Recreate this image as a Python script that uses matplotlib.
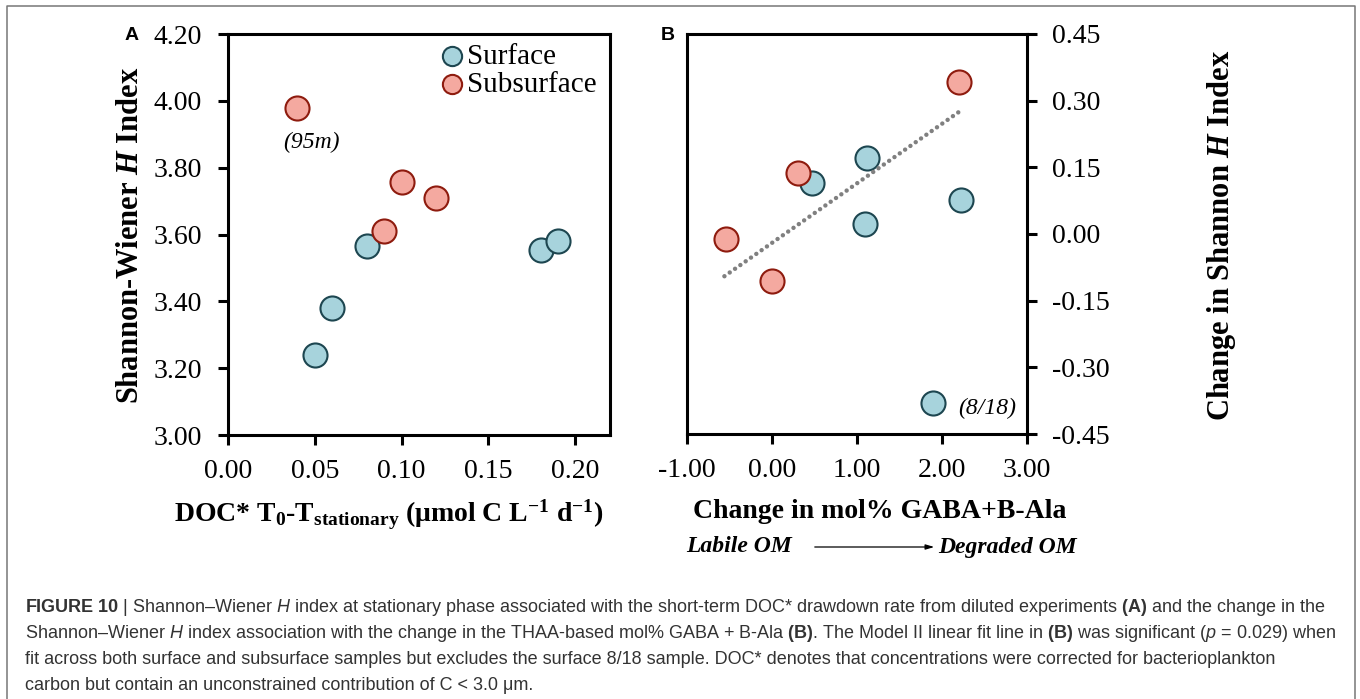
import matplotlib
matplotlib.use("Agg")
import matplotlib.pyplot as plt
import numpy as np
from matplotlib.ticker import FormatStrFormatter

# panel A: DOC* drawdown vs Shannon H
a_surface_x = [0.05, 0.06, 0.08, 0.18, 0.19]
a_surface_y = [3.24, 3.38, 3.565, 3.555, 3.58]
a_subsurface_x = [0.04, 0.09, 0.10, 0.12]
a_subsurface_y = [3.98, 3.61, 3.757, 3.71]

# panel B: change in mol% GABA+B-Ala vs change in Shannon H
b_surface_x = [0.47, 1.12, 1.09, 2.22, 1.89]
b_surface_y = [0.115, 0.17, 0.022, 0.076, -0.38]
b_subsurface_x = [-0.54, 0.0, 0.31, 2.20]
b_subsurface_y = [-0.012, -0.106, 0.137, 0.342]

# Model II fit (8/18 excluded)
fit_x = [-0.56, 2.20]
fit_slope = 0.134
fit_intercept = -0.020

a_xticks = [0.00, 0.05, 0.10, 0.15, 0.20]
a_yticks = [3.00, 3.20, 3.40, 3.60, 3.80, 4.00, 4.20]
b_xticks = [-1.00, 0.00, 1.00, 2.00, 3.00]
b_yticks = [-0.45, -0.30, -0.15, 0.00, 0.15, 0.30, 0.45]

caption_lines = [
    r"$\mathtt{FIGURE\ 10}$ | Shannon–Wiener $\mathcal{H}$ index at stationary phase associated with the short-term DOC* "
    r"drawdown rate from diluted experiments $\mathtt{(A)}$ and the change in the",
    r"Shannon–Wiener $\mathcal{H}$ index association with the change in the THAA-based mol% GABA + B-Ala $\mathtt{(B)}$. "
    r"The Model II linear fit line in $\mathtt{(B)}$ was significant ($\mathcal{p}$ = 0.029) when",
    "fit across both surface and subsurface samples but excludes the surface 8/18 sample. DOC* denotes that "
    "concentrations were corrected for bacterioplankton",
    "carbon but contain an unconstrained contribution of C < 3.0 μm.",
]

plt.rcParams.update({
    "font.family": "Liberation Serif",
    "axes.unicode_minus": False,
    "mathtext.fontset": "custom",
    "mathtext.rm": "Liberation Serif:bold",
    "mathtext.it": "Liberation Serif:bold:italic",
    "mathtext.bf": "Liberation Serif:bold",
    "mathtext.sf": "Liberation Sans",
    "mathtext.tt": "Liberation Sans:bold",
    "mathtext.cal": "Liberation Sans:italic",
})

W, H = 1360, 699
fig = plt.figure(figsize=(W / 100, H / 100), dpi=100)

# background axes in pixel coordinates for labels, caption and frame
bg = fig.add_axes([0, 0, 1, 1])
bg.set_xlim(0, W)
bg.set_ylim(H, 0)
bg.axis("off")

surf_style = dict(s=300, facecolor="#A7D3DC", edgecolor="#1D4650", linewidths=1.5)
sub_style = dict(s=300, facecolor="#F4A9A0", edgecolor="#8E1B0E", linewidths=1.5)


def style_axis(ax):
    for sp in ax.spines.values():
        sp.set_linewidth(2.2)
    ax.tick_params(length=7, width=2.2, labelsize=20, direction="out")
    ax.xaxis.set_major_formatter(FormatStrFormatter("%.2f"))
    ax.yaxis.set_major_formatter(FormatStrFormatter("%.2f"))


# ---- panel A
axA = fig.add_axes([228 / W, 1 - 435 / H, 382 / W, 401 / H])
axA.scatter(a_surface_x, a_surface_y, label="Surface", zorder=3, **surf_style)
axA.scatter(a_subsurface_x, a_subsurface_y, label="Subsurface", zorder=4, **sub_style)
axA.set_xlim(0, 0.22)
axA.set_ylim(3.0, 4.2)
axA.set_xticks(a_xticks)
axA.set_yticks(a_yticks)
style_axis(axA)
axA.tick_params(axis="y", pad=12)
axA.tick_params(axis="x", pad=10)
axA.text(0.048, 3.874, "(95m)", style="italic", fontsize=17, ha="center", va="center")
axA.legend(loc="upper right", bbox_to_anchor=(1.01, 1.02), frameon=False, fontsize=21,
           handletextpad=0.0, labelspacing=0.05, handlelength=1.0, markerscale=0.8,
           borderaxespad=0.2)

# ---- panel B
axB = fig.add_axes([687 / W, 1 - 434 / H, 340 / W, 400 / H])
axB.scatter(b_surface_x, b_surface_y, zorder=3, **surf_style)
axB.scatter(b_subsurface_x, b_subsurface_y, zorder=4, **sub_style)
fx = np.array(fit_x)
axB.plot(fx, fit_intercept + fit_slope * fx, color="#808080", lw=3.2,
         linestyle=(0, (0.01, 1.45)), dash_capstyle="round", zorder=5)
axB.set_xlim(-1, 3)
axB.set_ylim(-0.45, 0.45)
axB.set_xticks(b_xticks)
axB.set_yticks(b_yticks)
style_axis(axB)
axB.yaxis.tick_right()
axB.tick_params(axis="y", pad=11)
axB.tick_params(axis="x", pad=10)
axB.text(2.53, -0.392, "(8/18)", style="italic", fontsize=17, ha="center", va="center")

# ---- labels
bg.text(131, 235, "Shannon-Wiener $H$ Index", rotation=90, ha="center", va="center",
        fontsize=22, fontweight="bold")
bg.text(1221, 235, "Change in Shannon $H$ Index", rotation=90, ha="center", va="center",
        fontsize=22, fontweight="bold")
bg.text(389, 515, r"DOC* T$_0$-T$_\mathrm{stationary}$ (μmol C L$^{-1}$ d$^{-1}$)",
        ha="center", va="center", fontsize=20, fontweight="bold")
bg.text(880, 512, "Change in mol% GABA+B-Ala", ha="center", va="center",
        fontsize=20, fontweight="bold")
bg.text(739, 547, "Labile OM", ha="center", va="center", fontsize=17,
        fontweight="bold", style="italic")
bg.text(1007, 547, "Degraded OM", ha="center", va="center", fontsize=17,
        fontweight="bold", style="italic")
bg.annotate("", xy=(937, 547), xytext=(812, 547),
            arrowprops=dict(arrowstyle="-|>,head_length=0.5,head_width=0.15", lw=0.9, color="black"))
bg.text(132, 35, "A", ha="center", va="center", fontsize=14, fontweight="bold",
        fontfamily="Liberation Sans")
bg.text(668, 35, "B", ha="center", va="center", fontsize=14, fontweight="bold",
        fontfamily="Liberation Sans")

# ---- caption and frame
for i, line in enumerate(caption_lines):
    bg.text(25, 612 + i * 26, line, ha="left", va="baseline", fontsize=13,
            fontfamily="Liberation Sans", color="#333333")
bg.plot([7, 7, 1355, 1355], [H + 5, 6, 6, H + 5], color="#777777", lw=1.1, clip_on=False)

fig.savefig("out.png", dpi=100)
